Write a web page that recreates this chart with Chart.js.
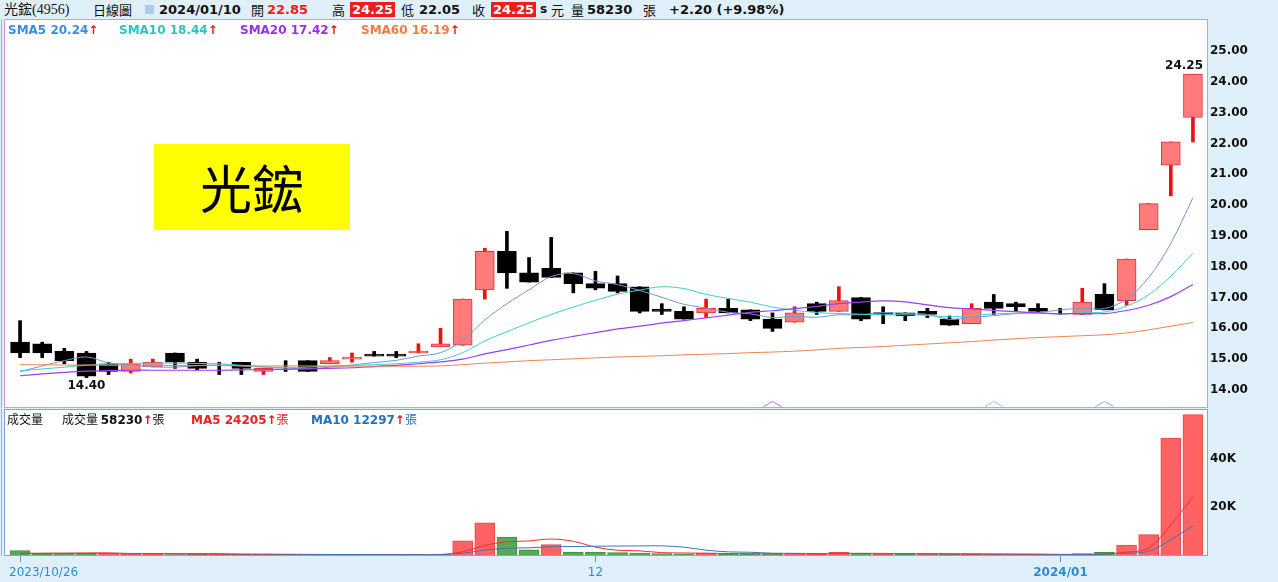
<!DOCTYPE html>
<html lang="zh-Hant"><head><meta charset="utf-8">
<script src="https://cdn.jsdelivr.net/npm/chart.js@4.4.1/dist/chart.umd.min.js"></script>
<style>
html,body{margin:0;padding:0;background:#dff0fb;}
#wrap{position:relative;width:1278px;height:582px;overflow:hidden;background:#dff0fb;font-family:"DejaVu Sans","Noto Sans CJK TC",sans-serif;}
.t{position:absolute;white-space:nowrap;line-height:15px;font-size:13px;color:#111;z-index:5;}
.b{font-weight:bold;}
.cjk{font-family:"Noto Sans CJK TC",sans-serif;font-weight:normal;}
.ar{color:#e81818;font-weight:bold;}
canvas{position:absolute;left:0;}
#ybox{position:absolute;left:154px;top:144px;width:196px;height:86px;background:#ffff00;z-index:6;
 font-family:"Noto Sans CJK TC",sans-serif;font-size:52px;line-height:86px;text-align:center;color:#000;}
</style></head>
<body><div id="wrap">
<canvas id="cMain" style="top:19px;width:1278px;height:389px" width="1278" height="389"></canvas>
<canvas id="cVol" style="top:409px;width:1278px;height:173px" width="1278" height="173"></canvas>
<div id="ybox">光鋐</div>
</div>
<script>
// ---------- data ----------
const stockName = "光鋐";
const stockCode = "4956";
const dates = ["2023/10/26","2023/10/27","2023/10/30","2023/10/31",
"2023/11/01","2023/11/02","2023/11/03","2023/11/06","2023/11/07","2023/11/08","2023/11/09","2023/11/10",
"2023/11/13","2023/11/14","2023/11/15","2023/11/16","2023/11/17","2023/11/20","2023/11/21","2023/11/22",
"2023/11/23","2023/11/24","2023/11/27","2023/11/28","2023/11/29","2023/11/30",
"2023/12/01","2023/12/04","2023/12/05","2023/12/06","2023/12/07","2023/12/08","2023/12/11","2023/12/12",
"2023/12/13","2023/12/14","2023/12/15","2023/12/18","2023/12/19","2023/12/20","2023/12/21","2023/12/22",
"2023/12/25","2023/12/26","2023/12/27","2023/12/28","2023/12/29",
"2024/01/02","2024/01/03","2024/01/04","2024/01/05","2024/01/08","2024/01/09","2024/01/10"];
const opens = [15.55,15.50,15.25,15.20,14.85,14.60,14.75,15.20,14.90,14.70,14.90,14.60,14.75,14.95,14.85,15.00,15.15,15.15,15.20,15.40,
15.45,17.25,18.50,17.80,17.95,17.80,17.45,17.45,17.35,16.60,16.55,16.50,16.65,16.60,16.30,16.20,16.80,16.55,17.00,16.50,
16.50,16.55,16.30,16.15,16.85,16.80,16.65,16.50,16.45,17.10,16.90,19.20,21.30,22.85];
const highs = [16.25,15.55,15.35,15.25,14.90,15.00,15.00,15.20,15.00,14.90,14.90,14.70,14.95,14.95,15.05,15.20,15.25,15.25,15.50,16.00,
16.95,18.60,19.15,18.30,18.95,17.80,17.85,17.70,17.35,16.80,16.70,16.95,16.95,16.60,16.50,16.70,16.85,17.35,17.00,16.70,
16.50,16.65,16.40,16.80,17.10,16.85,16.80,16.65,17.30,17.45,18.25,20.05,22.05,24.25];
const lows = [15.05,15.05,14.85,14.40,14.50,14.55,14.75,14.70,14.65,14.50,14.50,14.50,14.60,14.60,14.85,14.90,15.10,15.05,15.20,15.40,
15.45,16.95,17.30,17.50,17.65,17.15,17.25,17.15,16.50,16.45,16.30,16.35,16.50,16.25,15.90,16.20,16.45,16.55,16.25,16.15,
16.25,16.35,16.10,16.15,16.45,16.55,16.55,16.45,16.45,16.60,16.75,19.20,20.30,22.05];
const closes = [15.20,15.20,14.95,14.45,14.60,14.85,14.90,14.90,14.70,14.70,14.70,14.70,14.75,14.60,14.95,15.05,15.10,15.10,15.25,15.50,
16.95,18.50,17.80,17.50,17.65,17.45,17.30,17.20,16.55,16.55,16.30,16.65,16.50,16.30,16.00,16.50,16.55,16.90,16.30,16.45,
16.40,16.45,16.10,16.65,16.65,16.70,16.55,16.50,16.85,16.60,18.25,20.05,22.05,24.25];
const volumes = [2000,600,900,1000,900,600,500,400,500,400,400,300,300,350,400,350,300,300,400,600,
6100,13500,7600,2300,4500,1450,1450,1200,1000,800,700,1000,600,700,700,800,600,1300,1000,600,
500,500,500,600,345,300,300,200,800,1345,4300,8650,48500,58230];
const sma5 = [14.59,14.78,14.95,15.07,14.88,14.81,14.75,14.74,14.79,14.81,14.78,14.74,14.71,14.69,14.74,14.81,14.89,14.96,15.10,15.21,
15.60,16.27,16.80,17.25,17.68,17.78,17.54,17.42,17.23,17.01,16.78,16.66,16.52,16.47,16.35,16.39,16.36,16.44,16.44,16.51,
16.48,16.45,16.29,16.36,16.41,16.48,16.51,16.60,16.65,16.64,16.95,17.65,18.76,20.24];
const sma10 = [14.62,14.68,14.74,14.80,14.84,14.86,14.87,14.87,14.86,14.85,14.80,14.75,14.73,14.74,14.78,14.80,14.82,14.85,14.90,14.98,
15.21,15.59,15.89,16.18,16.45,16.69,16.91,17.11,17.24,17.35,17.29,17.10,16.97,16.85,16.69,16.59,16.51,16.48,16.46,16.44,
16.44,16.42,16.37,16.41,16.47,16.49,16.50,16.46,16.51,16.53,16.72,17.09,17.69,18.44];
const sma20 = [14.46,14.52,14.57,14.61,14.63,14.64,14.64,14.64,14.64,14.64,14.65,14.66,14.67,14.68,14.70,14.72,14.76,14.80,14.85,14.91,
15.00,15.17,15.31,15.46,15.61,15.74,15.86,15.98,16.07,16.17,16.25,16.34,16.43,16.52,16.57,16.64,16.71,16.80,16.85,16.89,
16.86,16.76,16.67,16.63,16.58,16.54,16.50,16.47,16.48,16.48,16.58,16.75,17.03,17.42];
const sma60 = [14.82,14.82,14.81,14.81,14.80,14.80,14.80,14.79,14.79,14.79,14.78,14.78,14.78,14.78,14.77,14.77,14.77,14.77,14.77,14.78,
14.82,14.87,14.91,14.95,14.98,15.01,15.04,15.07,15.09,15.11,15.14,15.16,15.18,15.21,15.23,15.26,15.30,15.35,15.38,15.41,
15.45,15.49,15.53,15.57,15.62,15.66,15.70,15.73,15.76,15.79,15.85,15.95,16.07,16.19];
const volMa5 = [900,950,1000,1050,1080,800,780,680,580,480,440,400,380,350,350,340,340,340,350,390,
1540,4180,5640,6020,6800,5870,3460,2180,1920,1180,1030,940,820,760,740,760,680,820,880,860,
800,780,620,540,489,449,409,349,389,589,1389,3059,12719,24205];
const volMa10 = [850,850,860,870,870,860,840,810,790,780,620,590,530,465,415,390,370,360,350,370,
940,2260,2990,3185,3595,3705,3820,3910,3970,3990,3450,2200,1500,1340,960,895,810,820,820,800,
780,730,720,710,675,625,595,485,465,539,919,1734,6534,12297];
const priceTicks = [14,15,16,17,18,19,20,21,22,23,24,25];
const volTicks = [20000,40000];
const xTickIdx = [0,26,47];
const xTickText = ["2023/10/26","12","2024/01"];
const signalIdx = [34,44,49];

// ---------- header ----------
const wrap = document.getElementById('wrap');
function put(x,y,html,style){
  const d=document.createElement('div'); d.className='t'; d.style.left=x+'px'; d.style.top=y+'px';
  if(style) d.style.cssText+=';'+style; d.innerHTML=html; wrap.appendChild(d); return d;
}
const N = closes.length, L = N-1;
const f2 = v=>v.toFixed(2);
const chg = closes[L]-closes[L-1];
const pct = chg/closes[L-1]*100;
put(4,2,stockName+'('+stockCode+')',"font-size:14px;font-family:'Liberation Serif','Noto Sans CJK TC',serif");
put(93,2,'日線圖').classList.add('cjk');
const ic=document.createElement('div'); ic.style.cssText='position:absolute;left:145px;top:5px;width:9px;height:9px;background:#a8cdee;z-index:5';
wrap.appendChild(ic);
put(159,2,dates[L],'font-weight:bold');
put(251,2,'開').classList.add('cjk');
put(267,2,f2(opens[L]),'font-weight:bold;color:#e8221c');
put(332,2,'高').classList.add('cjk');
put(350,2,f2(highs[L]),'font-weight:bold;color:#fff;background:#ee1c1c;padding:0 2px');
put(401,2,'低').classList.add('cjk');
put(419,2,f2(lows[L]),'font-weight:bold');
put(472,2,'收').classList.add('cjk');
put(491,2,f2(closes[L]),'font-weight:bold;color:#fff;background:#ee1c1c;padding:0 2px');
put(540,2,'s','font-weight:bold;font-size:12px');
put(551,2,'元').classList.add('cjk');
put(571,2,'量').classList.add('cjk');
put(587,2,String(volumes[L]),'font-weight:bold');
put(643,2,'張').classList.add('cjk');
put(669,2,(chg>=0?'+':'')+f2(chg)+' (+'+f2(pct)+'%)','font-weight:bold');

// MA legend
const AR='<span class="ar">↑</span>';
put(8,23,'SMA5 '+f2(sma5[L])+AR,'font-weight:bold;font-size:12px;color:#3b8de0');
put(119,23,'SMA10 '+f2(sma10[L])+AR,'font-weight:bold;font-size:12px;color:#2ec4c4');
put(240,23,'SMA20 '+f2(sma20[L])+AR,'font-weight:bold;font-size:12px;color:#9b30e8');
put(361,23,'SMA60 '+f2(sma60[L])+AR,'font-weight:bold;font-size:12px;color:#f07c45');
// volume legend
put(7,411,'成交量','font-size:12px;font-family:"Noto Sans CJK TC"');
put(62,411,'<span class="cjk">成交量 </span><b>'+volumes[L]+'</b>'+AR+'<span class="cjk">張</span>','font-size:12px');
put(191,411,'<b>MA5 '+volMa5[L]+'</b>'+AR+'<span class="cjk">張</span>','font-size:12px;color:#ee2020');
put(311,411,'<b>MA10 '+volMa10[L]+'</b>'+AR+'<span class="cjk">張</span>','font-size:12px;color:#2670b8');

// ---------- charts ----------
const isUp = i => closes[i] > opens[i];
const volUp = i => i===0 ? closes[0] > opens[0] : closes[i] > closes[i-1];
const bodyData = opens.map((o,i)=> o===closes[i] ? null : [o, closes[i]]);
const wickData = lows.map((l,i)=>[l, highs[i]]);
const lineDs = (data,color,w)=>({type:'line',data,borderColor:color,borderWidth:w||1,pointRadius:0,tension:0.35,fill:false,order:1});
const fitY = s=>{ s.width=74; s.paddingTop=0; s.paddingBottom=0; };

const mainDeco = {
  id:'mainDeco',
  beforeDraw(chart){
    const c=chart.ctx; c.save(); c.fillStyle='#fff'; c.fillRect(5,0,1202,388.5); c.restore();
  },
  afterDraw(chart){
    const c=chart.ctx, xs=chart.scales.x, ys=chart.scales.y, ca=chart.chartArea;
    c.save();
    c.strokeStyle='#dc90e0'; c.lineWidth=1;
    c.strokeRect(4.5,0.5,1203,388);
    c.beginPath(); c.moveTo(1.5,0); c.lineTo(1.5,389); c.stroke();
    const sc=['#b070e0','#7fd0dc','#a0a0e0'];
    signalIdx.forEach((k,j)=>{
      const x=xs.getPixelForValue(k);
      c.strokeStyle=sc[j%sc.length]; c.beginPath();
      c.moveTo(x-9,387.5); c.lineTo(x,382.5); c.lineTo(x+9,387.5); c.stroke();
    });
    let mi=0, ma=0;
    lows.forEach((v,i)=>{ if(v<lows[mi]) mi=i; });
    highs.forEach((v,i)=>{ if(v>highs[ma]) ma=i; });
    c.font='bold 12px "DejaVu Sans"'; c.fillStyle='#111';
    c.textAlign='center'; c.textBaseline='top';
    c.fillText(f2(lows[mi]), xs.getPixelForValue(mi), ys.getPixelForValue(lows[mi])+2);
    const tw=c.measureText(f2(highs[ma])).width;
    let hx=xs.getPixelForValue(ma);
    c.textBaseline='bottom';
    if(hx+tw/2>ca.right-1){ c.textAlign='right'; hx=ca.right-1; }
    c.fillText(f2(highs[ma]), hx, ys.getPixelForValue(highs[ma])-2);
    c.restore();
  }
};

new Chart(document.getElementById('cMain'),{
  data:{labels:dates,datasets:[
    {type:'bar',data:wickData,grouped:false,barThickness:3,order:3,borderWidth:0,
      backgroundColor:ctx=>isUp(ctx.dataIndex)?'#ee1111':'#000'},
    {type:'bar',data:bodyData,grouped:false,barThickness:19,order:2,borderWidth:1,borderSkipped:false,minBarLength:2,
      backgroundColor:ctx=>isUp(ctx.dataIndex)?'#ff7b7b':'#000',
      borderColor:ctx=>isUp(ctx.dataIndex)?'#e8303a':'#000'},
    lineDs(sma60,'#f3834f'),
    lineDs(sma20,'#9b3ff0',1.2),
    lineDs(sma10,'#3fcfcf'),
    lineDs(sma5,'#7097d6')
  ]},
  options:{
    responsive:false,animation:false,devicePixelRatio:1,
    layout:{padding:{left:9,right:0,top:0,bottom:0}},
    plugins:{legend:{display:false},tooltip:{enabled:false}},
    scales:{
      x:{type:'category',display:false,offset:true},
      y:{position:'right',min:13.414,max:26.041,
        afterFit:fitY,
        afterBuildTicks:s=>{s.ticks=priceTicks.map(v=>({value:v}));},
        ticks:{callback:v=>Number(v).toFixed(2),font:{family:'DejaVu Sans',weight:'bold',size:12},color:'#111',padding:6},
        grid:{display:false,drawTicks:false},border:{display:false}}
    }
  },
  plugins:[mainDeco]
});

const volDeco = {
  id:'volDeco',
  beforeDraw(chart){
    const c=chart.ctx; c.save(); c.fillStyle='#fff'; c.fillRect(5,1,1202,145.5); c.restore();
  },
  afterDraw(chart){
    const c=chart.ctx, xs=chart.scales.x, ca=chart.chartArea;
    c.save();
    c.strokeStyle='#7ea6dc'; c.lineWidth=1;
    c.strokeRect(4.5,0.5,1203,146);
    c.strokeStyle='#dc90e0';
    c.beginPath(); c.moveTo(1.5,0); c.lineTo(1.5,147); c.stroke();
    c.strokeStyle='#5d97cc';
    c.fillStyle='#2f8bd0'; c.textBaseline='middle';
    xTickIdx.forEach((k,j)=>{
      const x=Math.round(xs.getPixelForValue(k))+0.5;
      c.beginPath(); c.moveTo(x,146.5); c.lineTo(x,153); c.stroke();
      c.font=(j===xTickIdx.length-1?'bold ':'')+'12px "DejaVu Sans"';
      if(j===0){ c.textAlign='left'; c.fillText(xTickText[j], ca.left, 164); }
      else { c.textAlign='center'; c.fillText(xTickText[j], x, 164); }
    });
    c.restore();
  }
};

new Chart(document.getElementById('cVol'),{
  data:{labels:dates,datasets:[
    {type:'bar',data:volumes,barThickness:20,order:2,borderWidth:1,borderSkipped:'start',
      backgroundColor:ctx=>volUp(ctx.dataIndex)?'#ff6262':'#58a858',
      borderColor:ctx=>volUp(ctx.dataIndex)?'#e84848':'#3f8f3f'},
    {type:'line',data:volMa10,borderColor:'#3a78b8',borderWidth:1,pointRadius:0,tension:0.35,order:1},
    {type:'line',data:volMa5,borderColor:'#ff2a2a',borderWidth:1,pointRadius:0,tension:0.35,order:1}
  ]},
  options:{
    responsive:false,animation:false,devicePixelRatio:1,
    layout:{padding:{left:9,right:0,top:1,bottom:26.5}},
    plugins:{legend:{display:false},tooltip:{enabled:false}},
    scales:{
      x:{type:'category',display:false,offset:true},
      y:{position:'right',min:0,max:60124,
        afterFit:fitY,
        afterBuildTicks:s=>{s.ticks=volTicks.map(v=>({value:v}));},
        ticks:{callback:v=>(v/1000)+'K',font:{family:'DejaVu Sans',weight:'bold',size:12},color:'#111',padding:6},
        grid:{display:false,drawTicks:false},border:{display:false}}
    }
  },
  plugins:[volDeco]
});
</script>
</body></html>
